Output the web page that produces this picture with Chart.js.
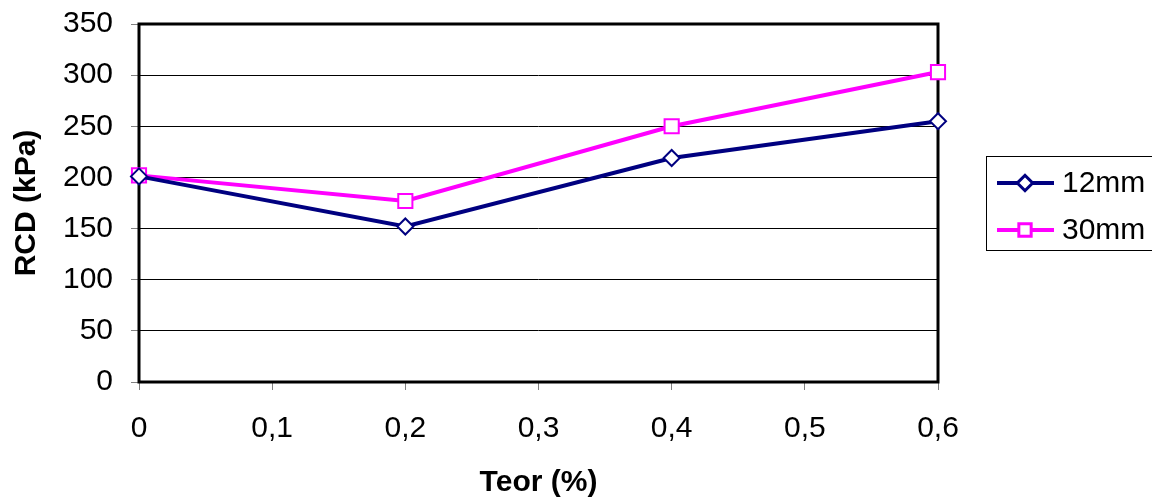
<!DOCTYPE html>
<html>
<head>
<meta charset="utf-8">
<script src="https://cdn.jsdelivr.net/npm/chart.js@4"></script>
<style>
  html, body { margin: 0; padding: 0; background: #fff; }
  #wrap { width: 1152px; height: 497px; }
</style>
</head>
<body>
<div id="wrap"><canvas id="rcd"></canvas></div>
<script>
// Teor (%) vs RCD (kPa)
const teor = [0, 0.2, 0.4, 0.6];
const rcd12 = [201, 152, 219, 255];
const rcd30 = [202, 177, 250, 303];
const seriesNames = ["12mm", "30mm"];

const navy = "#000080";
const magenta = "#FF00FF";
const fontFamily = "'Liberation Sans', Arial, sans-serif";

// cadre noir autour de la zone de tracé
const frame = {
  id: "frame",
  beforeDatasetsDraw(chart) {
    const { ctx, chartArea: a } = chart;
    ctx.save();
    ctx.strokeStyle = "#000";
    ctx.lineWidth = 3;
    ctx.strokeRect(a.left, a.top, a.right - a.left, a.bottom - a.top);
    ctx.restore();
  }
};

// légende façon Excel : trait + marqueur, dans une boîte
const boxLegend = {
  id: "boxLegend",
  afterDraw(chart) {
    const { ctx } = chart;
    ctx.save();
    ctx.strokeStyle = "#000";
    ctx.lineWidth = 1;
    ctx.strokeRect(986.5, 156.5, 180, 94);
    chart.data.datasets.forEach((ds, i) => {
      const y = 183 + i * 47;
      ctx.strokeStyle = ds.borderColor;
      ctx.lineWidth = 4;
      ctx.beginPath();
      ctx.moveTo(997, y);
      ctx.lineTo(1054, y);
      ctx.stroke();
      Chart.helpers.drawPoint(ctx, {
        pointStyle: ds.pointStyle,
        radius: ds.pointStyle === "rect" ? 8 : 7,
        borderWidth: 2
      }, 1025, y);
      ctx.fillStyle = "#fff";
      ctx.strokeStyle = ds.borderColor;
      ctx.lineWidth = 2;
      ctx.fill();
      ctx.stroke();
      ctx.fillStyle = "#000";
      ctx.font = "30px " + fontFamily;
      ctx.textBaseline = "middle";
      ctx.fillText(ds.label, 1062, y + 1);
    });
    ctx.restore();
  }
};

new Chart(document.getElementById("rcd"), {
  type: "line",
  data: {
    datasets: [
      {
        label: seriesNames[0],
        data: teor.map((x, i) => ({ x: x, y: rcd12[i] })),
        borderColor: navy,
        backgroundColor: "#fff",
        borderWidth: 4,
        pointStyle: "rectRot",
        pointRadius: 8,
        pointBorderWidth: 2,
        pointBackgroundColor: "#fff",
        pointBorderColor: navy,
        clip: false
      },
      {
        label: seriesNames[1],
        data: teor.map((x, i) => ({ x: x, y: rcd30[i] })),
        borderColor: magenta,
        backgroundColor: "#fff",
        borderWidth: 4,
        pointStyle: "rect",
        pointRadius: 10,
        pointBorderWidth: 2,
        pointBackgroundColor: "#fff",
        pointBorderColor: magenta,
        clip: false
      }
    ]
  },
  options: {
    responsive: true,
    maintainAspectRatio: false,
    animation: false,
    layout: { padding: { left: 0, right: 214, top: 24, bottom: 0 } },
    plugins: {
      legend: { display: false },
      tooltip: { enabled: false }
    },
    scales: {
      x: {
        type: "linear",
        min: 0,
        max: 0.6,
        afterFit(scale) {
          scale.height = 115;
          scale.paddingLeft = 0;
          scale.paddingRight = 0;
        },
        ticks: {
          stepSize: 0.1,
          color: "#000",
          padding: 21,
          font: { family: fontFamily, size: 30 },
          callback: (v) => String(Math.round(v * 10) / 10).replace(".", ",")
        },
        grid: {
          drawOnChartArea: false,
          tickLength: 8,
          tickColor: "#808080",
          lineWidth: 1
        },
        border: { display: false },
        title: {
          display: true,
          text: "Teor (%)",
          color: "#000",
          font: { family: fontFamily, size: 30, weight: "bold" },
          padding: { top: 0, bottom: -4 }
        }
      },
      y: {
        min: 0,
        max: 350,
        afterFit(scale) {
          scale.width = 139;
          scale.paddingTop = 0;
          scale.paddingBottom = 0;
        },
        ticks: {
          stepSize: 50,
          color: "#000",
          padding: 18,
          font: { family: fontFamily, size: 30 }
        },
        grid: {
          color: "#000",
          lineWidth: 1,
          tickLength: 8,
          tickColor: "#808080"
        },
        border: { display: false },
        title: {
          display: true,
          text: "RCD (kPa)",
          color: "#000",
          font: { family: fontFamily, size: 30, weight: "bold" },
          padding: { top: 9, bottom: 0 }
        }
      }
    }
  },
  plugins: [frame, boxLegend]
});
</script>
</body>
</html>
